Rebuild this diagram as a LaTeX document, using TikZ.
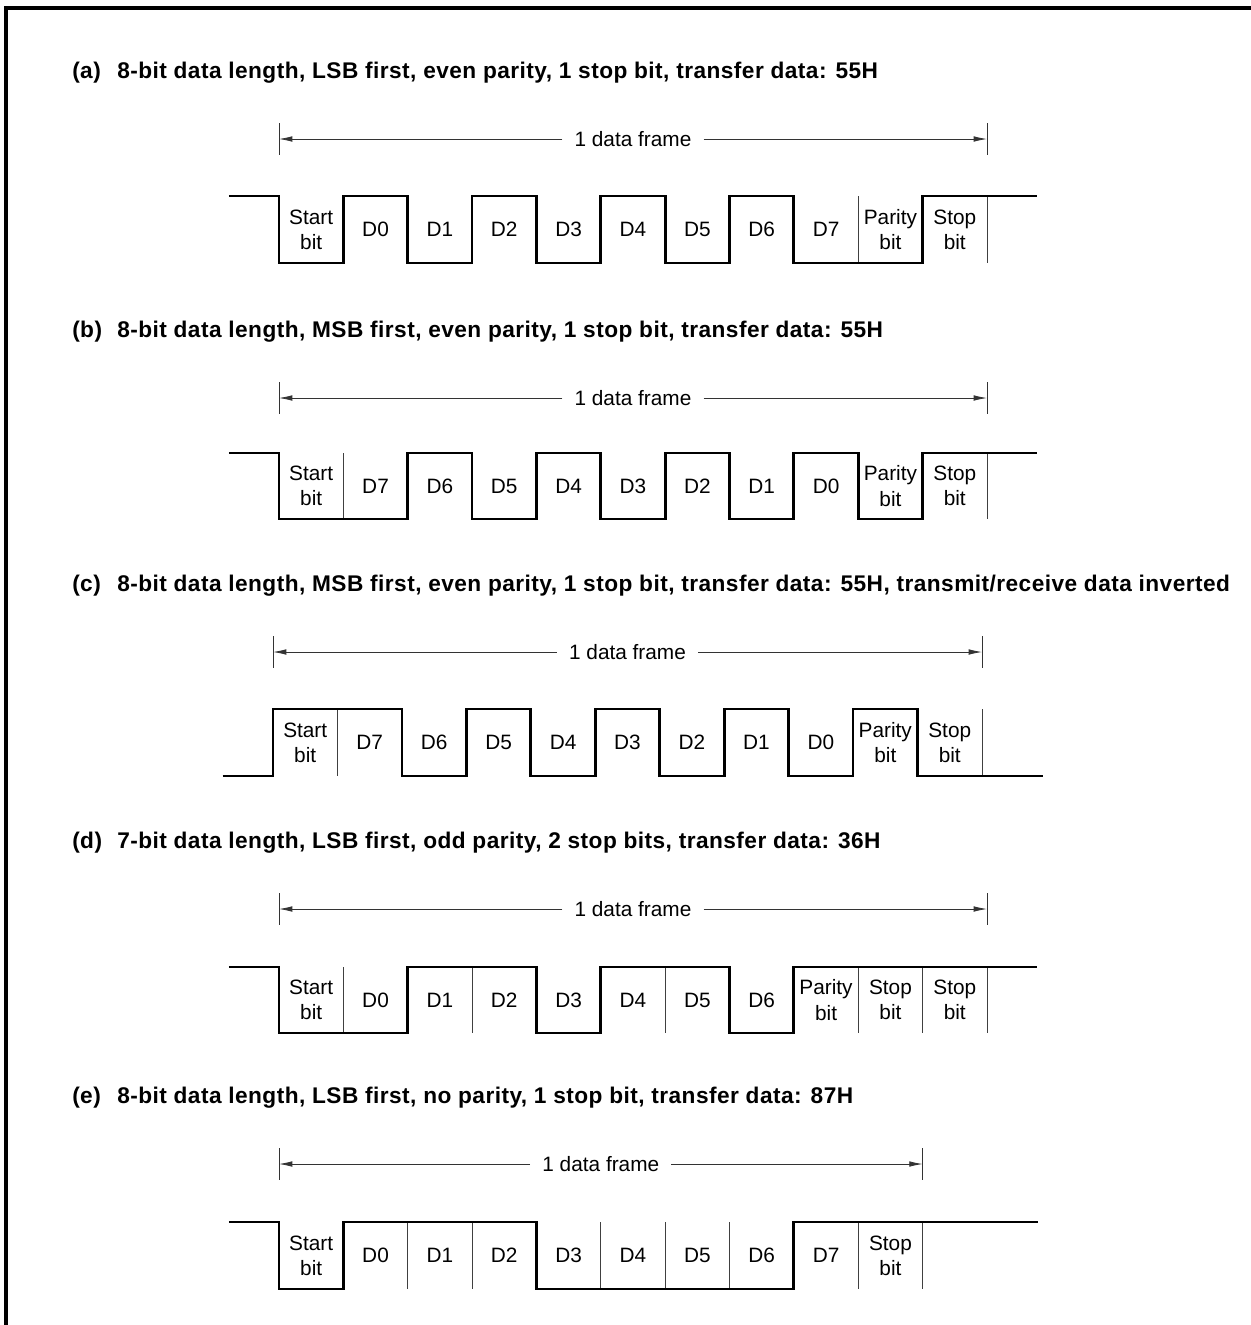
\documentclass[tikz,border=0pt]{standalone}
\usepackage{fontspec}
\setmainfont{Liberation Sans}
\usetikzlibrary{arrows.meta}
\tikzset{
  paneltitle/.style={anchor=base west, inner sep=0pt, font=\fontsize{17}{20}\selectfont\bfseries\addfontfeature{LetterSpace=2}},
  bitlabel/.style={align=center, inner sep=0pt, font=\fontsize{15.6}{19}\selectfont},
  framelabel/.style={inner xsep=9pt, inner ysep=0pt, font=\fontsize{15.6}{19}\selectfont},
  signal/.style={line width=2.1pt},
  divider/.style={line width=0.6pt, black!75},
  frametick/.style={line width=0.6pt, black!80},
  framearrow/.style={-{Latex[length=10pt,width=4.2pt]}, line width=0.6pt, black!80},
  border/.style={line width=2.3pt},
}

\begin{document}
\begin{tikzpicture}[x=0.75pt, y=-0.75pt]
  \useasboundingbox (0,0) rectangle (1251,1325);
  \draw[border] (6,1340) -- (6,8) -- (1270,8);

  \node[paneltitle] (ta) at (72,78) {\makebox[33.75pt][l]{(a)}8-bit data length, LSB first, even parity, 1 stop bit, transfer data: 55H};
  \begin{scope}[shift={(279,196)}, x=48.27pt]
    \node[framelabel] (fa) at (5.5,-57) {1 data frame};
    \coordinate (fa-l) at (0,-57);
    \coordinate (fa-r) at (11,-57);
    \draw[frametick] (0,-73) -- (0,-41);
    \draw[frametick] (11,-73) -- (11,-41);
    \draw[framearrow] (fa) -- (fa-l);
    \draw[framearrow] (fa) -- (fa-r);
    \foreach \k in {9,11} \draw[divider] (\k,0) -- (\k,67);
    \draw[signal] (-0.78,0) -| (0,67) -| (1,0) -| (2,67) -| (3,0) -| (4,67) -| (5,0) -| (6,67) -| (7,0) -| (8,67) -| (10,0) -- (11.78,0);
    \foreach \txt [count=\k from 0] in {{Start\\bit},D0,D1,D2,D3,D4,D5,D6,D7,{Parity\\bit},{Stop\\bit}}
      \node[bitlabel] (a\k) at (\k+0.5,33.5) {\txt};
  \end{scope}

  \node[paneltitle] (tb) at (72,337) {\makebox[33.75pt][l]{(b)}8-bit data length, MSB first, even parity, 1 stop bit, transfer data: 55H};
  \begin{scope}[shift={(279,453)}, x=48.27pt]
    \node[framelabel] (fb) at (5.5,-55) {1 data frame};
    \coordinate (fb-l) at (0,-55);
    \coordinate (fb-r) at (11,-55);
    \draw[frametick] (0,-71) -- (0,-39);
    \draw[frametick] (11,-71) -- (11,-39);
    \draw[framearrow] (fb) -- (fb-l);
    \draw[framearrow] (fb) -- (fb-r);
    \foreach \k in {1,11} \draw[divider] (\k,0) -- (\k,66);
    \draw[signal] (-0.78,0) -| (0,66) -| (2,0) -| (3,66) -| (4,0) -| (5,66) -| (6,0) -| (7,66) -| (8,0) -| (9,66) -| (10,0) -- (11.78,0);
    \foreach \txt [count=\k from 0] in {{Start\\bit},D7,D6,D5,D4,D3,D2,D1,D0,{Parity\\bit},{Stop\\bit}}
      \node[bitlabel] (b\k) at (\k+0.5,33) {\txt};
  \end{scope}

  \node[paneltitle] (tc) at (72,591) {\makebox[33.75pt][l]{(c)}8-bit data length, MSB first, even parity, 1 stop bit, transfer data: 55H, transmit/receive data inverted};
  \begin{scope}[shift={(273,709)}, x=48.34pt]
    \node[framelabel] (fc) at (5.5,-57) {1 data frame};
    \coordinate (fc-l) at (0,-57);
    \coordinate (fc-r) at (11,-57);
    \draw[frametick] (0,-73) -- (0,-41);
    \draw[frametick] (11,-73) -- (11,-41);
    \draw[framearrow] (fc) -- (fc-l);
    \draw[framearrow] (fc) -- (fc-r);
    \foreach \k in {1,11} \draw[divider] (\k,0) -- (\k,67);
    \draw[signal] (-0.78,67) -| (0,0) -| (2,67) -| (3,0) -| (4,67) -| (5,0) -| (6,67) -| (7,0) -| (8,67) -| (9,0) -| (10,67) -- (11.95,67);
    \foreach \txt [count=\k from 0] in {{Start\\bit},D7,D6,D5,D4,D3,D2,D1,D0,{Parity\\bit},{Stop\\bit}}
      \node[bitlabel] (c\k) at (\k+0.5,33.5) {\txt};
  \end{scope}

  \node[paneltitle] (td) at (72,848) {\makebox[33.75pt][l]{(d)}7-bit data length, LSB first, odd parity, 2 stop bits, transfer data: 36H};
  \begin{scope}[shift={(279,967)}, x=48.27pt]
    \node[framelabel] (fd) at (5.5,-58) {1 data frame};
    \coordinate (fd-l) at (0,-58);
    \coordinate (fd-r) at (11,-58);
    \draw[frametick] (0,-74) -- (0,-42);
    \draw[frametick] (11,-74) -- (11,-42);
    \draw[framearrow] (fd) -- (fd-l);
    \draw[framearrow] (fd) -- (fd-r);
    \foreach \k in {1,3,6,9,10,11} \draw[divider] (\k,0) -- (\k,66);
    \draw[signal] (-0.78,0) -| (0,66) -| (2,0) -| (4,66) -| (5,0) -| (7,66) -| (8,0) -- (11.78,0);
    \foreach \txt [count=\k from 0] in {{Start\\bit},D0,D1,D2,D3,D4,D5,D6,{Parity\\bit},{Stop\\bit},{Stop\\bit}}
      \node[bitlabel] (d\k) at (\k+0.5,33) {\txt};
  \end{scope}

  \node[paneltitle] (te) at (72,1103) {\makebox[33.75pt][l]{(e)}8-bit data length, LSB first, no parity, 1 stop bit, transfer data: 87H};
  \begin{scope}[shift={(279,1222)}, x=48.27pt]
    \node[framelabel] (fe) at (5,-58) {1 data frame};
    \coordinate (fe-l) at (0,-58);
    \coordinate (fe-r) at (10,-58);
    \draw[frametick] (0,-74) -- (0,-42);
    \draw[frametick] (10,-74) -- (10,-42);
    \draw[framearrow] (fe) -- (fe-l);
    \draw[framearrow] (fe) -- (fe-r);
    \foreach \k in {2,3,5,6,7,9,10} \draw[divider] (\k,0) -- (\k,67);
    \draw[signal] (-0.78,0) -| (0,67) -| (1,0) -| (4,67) -| (8,0) -- (11.79,0);
    \foreach \txt [count=\k from 0] in {{Start\\bit},D0,D1,D2,D3,D4,D5,D6,D7,{Stop\\bit}}
      \node[bitlabel] (e\k) at (\k+0.5,33.5) {\txt};
  \end{scope}
\end{tikzpicture}
\end{document}
